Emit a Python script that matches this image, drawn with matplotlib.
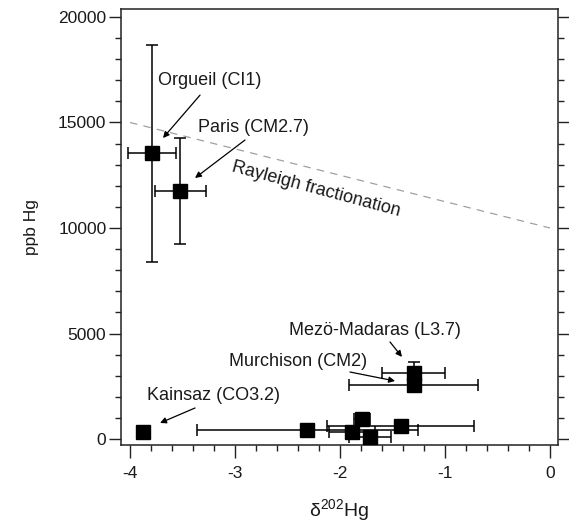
import matplotlib
matplotlib.use("Agg")
import matplotlib.pyplot as plt
import numpy as np
from matplotlib.ticker import MultipleLocator

plt.rcParams['font.family'] = ['Liberation Sans', 'DejaVu Sans']
plt.rcParams['mathtext.fontset'] = 'custom'
plt.rcParams['mathtext.rm'] = 'Liberation Sans'
plt.rcParams['mathtext.it'] = 'Liberation Sans'

# data
d202 = [-3.79, -3.52, -3.876, -2.31, -1.79, -1.886, -1.71, -1.42, -1.30, -1.30]
ppb = [13550, 11750, 330, 430, 970, 330, 100, 640, 3140, 2560]
d202_err = [0.23, 0.24, 0.0, 1.05, 0.08, 0.22, 0.20, 0.70, 0.30, 0.61]
ppb_err = [5140, 2500, 0, 0, 0, 0, 0, 0, 500, 0]

rayleigh_x = [-4.0, 0.0]
rayleigh_y = [15000, 10000]

labels = ["Orgueil (CI1)", "Paris (CM2.7)", "Mezö-Madaras (L3.7)",
          "Murchison (CM2)", "Kainsaz (CO3.2)"]
label_text_xy = [(-3.733, 17010), (-3.352, 14740), (-2.486, 5165),
                 (-3.057, 3650), (-3.838, 2085)]
label_tail_xy = [(-3.333, 16300), (-2.905, 14170), (-1.524, 4600),
                 (-1.905, 3175), (-3.381, 1470)]
label_head_xy = [(-3.686, 14265), (-3.381, 12370), (-1.41, 3890),
                 (-1.476, 2750), (-3.714, 760)]

fig = plt.figure(figsize=(5.69, 5.31), dpi=100)
ax = fig.add_axes([121/569, 1-445/531, (558-121)/569, (445-9)/531])

txt_col = '#1a1a1a'

ax.plot(rayleigh_x, rayleigh_y, color='#a0a0a0', lw=0.9, ls=(0, (6, 5)), zorder=1)
ax.text(-2.23, 11820, "Rayleigh fractionation", rotation=-15, ha='center', va='center',
        rotation_mode='anchor', fontsize=13, color=txt_col)

for xi, yi, xe, ye in zip(d202, ppb, d202_err, ppb_err):
    ax.errorbar([xi], [yi],
                xerr=[xe] if xe > 0 else None,
                yerr=[ye] if ye > 0 else None,
                fmt='none', ecolor='black', elinewidth=1.1, capsize=4.5,
                capthick=1.1, zorder=2)
ax.plot(d202, ppb, ls='none', marker='s', ms=9.5, color='black', zorder=3)

for lab, txy, tail, head in zip(labels, label_text_xy, label_tail_xy, label_head_xy):
    ax.text(txy[0], txy[1], lab, ha='left', va='center', fontsize=13, color=txt_col)
    ax.annotate('', xy=head, xytext=tail,
                arrowprops=dict(arrowstyle='-|>', color='black', lw=0.9,
                                mutation_scale=9, shrinkA=0, shrinkB=0))

ax.set_xlim(-4.086, 0.076)
ax.set_ylim(-284, 20379)
ax.xaxis.set_major_locator(MultipleLocator(1))
ax.xaxis.set_minor_locator(MultipleLocator(0.2))
ax.yaxis.set_major_locator(MultipleLocator(5000))
ax.yaxis.set_minor_locator(MultipleLocator(1000))
ax.set_xticks([-4, -3, -2, -1, 0])
ax.set_xticklabels(['-4', '-3', '-2', '-1', '0'])

ax.tick_params(which='both', direction='out', width=1.0, color='#222222',
               labelsize=12.5, labelcolor=txt_col, top=False, right=True)
ax.tick_params(which='major', length=9)
ax.tick_params(which='minor', length=4.5)
ax.tick_params(axis='x', pad=6)
ax.tick_params(axis='y', pad=1.5)
for s in ax.spines.values():
    s.set_linewidth(1.1)
    s.set_color('#222222')

ax.set_ylabel('ppb Hg', fontsize=12.5, color=txt_col, labelpad=14)
ax.set_xlabel(r'δ$^{202}$Hg', fontsize=14, color=txt_col, labelpad=12)

fig.savefig('out.png', dpi=100)
